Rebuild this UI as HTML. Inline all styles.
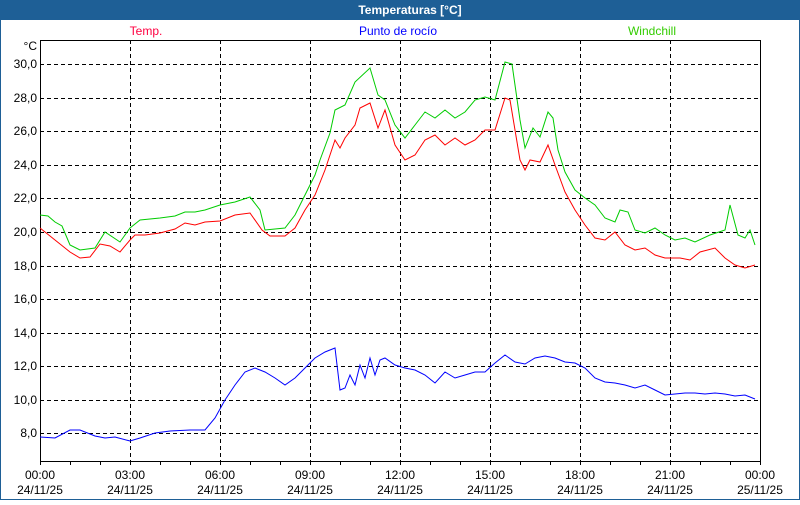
<!DOCTYPE html>
<html><head><meta charset="utf-8"><style>
body{margin:0;width:800px;height:500px;overflow:hidden;background:#fff;font-family:"Liberation Sans",sans-serif}
</style></head><body>
<svg width="800" height="500" xmlns="http://www.w3.org/2000/svg" font-family="Liberation Sans, sans-serif" font-size="12">
<rect x="0" y="0" width="800" height="500" fill="#fff"/>
<rect x="0.5" y="0.5" width="799" height="499" fill="none" stroke="#1e5f96"/>
<rect x="0" y="0" width="800" height="20" fill="#1e5f96"/>
<text x="410" y="14" fill="#fff" font-weight="bold" text-anchor="middle">Temperaturas [°C]</text>
<text x="146" y="35" fill="#ff0040" text-anchor="middle">Temp.</text>
<text x="398" y="35" fill="#0000ff" text-anchor="middle">Punto de rocío</text>
<text x="652" y="35" fill="#33cc00" text-anchor="middle">Windchill</text>
<g stroke="#000" stroke-dasharray="4,3" stroke-width="1">
<path d="M130.5 40V461M220.5 40V461M310.5 40V461M400.5 40V461M490.5 40V461M580.5 40V461M670.5 40V461"/>
<path d="M40 64.5H760M40 98.5H760M40 131.5H760M40 165.5H760M40 198.5H760M40 232.5H760M40 266.5H760M40 299.5H760M40 333.5H760M40 366.5H760M40 400.5H760M40 433.5H760"/>
</g>
<rect x="40.5" y="40.5" width="720" height="421" fill="none" stroke="#000"/>
<g stroke="#000"><path d="M40.5 461V465M70.5 461V465M100.5 461V465M130.5 461V465M160.5 461V465M190.5 461V465M220.5 461V465M250.5 461V465M280.5 461V465M310.5 461V465M340.5 461V465M370.5 461V465M400.5 461V465M430.5 461V465M460.5 461V465M490.5 461V465M520.5 461V465M550.5 461V465M580.5 461V465M610.5 461V465M640.5 461V465M670.5 461V465M700.5 461V465M730.5 461V465M760.5 461V465"/></g>
<g fill="#000" text-anchor="end">
<text x="37" y="50">°C</text>
<text x="37" y="68">30,0</text><text x="37" y="102">28,0</text><text x="37" y="135">26,0</text><text x="37" y="169">24,0</text><text x="37" y="202">22,0</text><text x="37" y="236">20,0</text><text x="37" y="270">18,0</text><text x="37" y="303">16,0</text><text x="37" y="337">14,0</text><text x="37" y="370">12,0</text><text x="37" y="404">10,0</text><text x="37" y="437">8,0</text>
</g>
<g fill="#000" text-anchor="middle">
<text x="40" y="479">00:00</text><text x="40" y="494">24/11/25</text>
<text x="130" y="479">03:00</text><text x="130" y="494">24/11/25</text>
<text x="220" y="479">06:00</text><text x="220" y="494">24/11/25</text>
<text x="310" y="479">09:00</text><text x="310" y="494">24/11/25</text>
<text x="400" y="479">12:00</text><text x="400" y="494">24/11/25</text>
<text x="490" y="479">15:00</text><text x="490" y="494">24/11/25</text>
<text x="580" y="479">18:00</text><text x="580" y="494">24/11/25</text>
<text x="670" y="479">21:00</text><text x="670" y="494">24/11/25</text>
<text x="760" y="479">00:00</text><text x="760" y="494">25/11/25</text>
</g>
<polyline fill="none" stroke="#00cc00" points="40,215 48,216 55,222 62,226 70,245 80,250 95,248 105,232 120,242 130,228 140,220 160,218 175,216 185,212 195,212 205,210 220,205 235,202 250,197 260,210 265,230 285,228 295,215 305,195 315,175 320,160 330,133 335,110 345,105 355,82 370,68 378,95 385,100 395,125 405,138 415,125 425,112 435,118 445,110 455,118 465,112 475,100 485,97 495,100 505,62 512,64 520,120 525,148 533,128 540,137 548,112 553,118 558,150 565,172 575,190 585,198 595,205 605,218 615,222 620,210 628,212 635,230 645,233 655,228 665,235 675,240 685,238 695,242 710,235 725,230 730,205 738,235 745,238 750,230 755,245"/>
<polyline fill="none" stroke="#ff0000" points="40,228 45,232 55,240 70,252 80,258 90,257 100,244 110,246 120,252 130,240 135,235 145,235 160,233 175,229 185,223 195,225 205,222 220,221 235,215 250,213 262,230 270,236 285,236 295,228 305,210 315,195 325,170 335,140 340,148 345,138 355,125 360,108 370,103 378,128 385,110 395,145 405,160 415,155 425,140 435,135 445,145 455,138 465,145 475,140 485,130 495,130 505,98 510,100 520,160 525,170 530,160 540,162 548,145 555,165 565,192 575,210 585,225 595,238 605,240 615,232 625,245 635,250 645,248 655,255 665,258 680,258 690,260 700,252 715,248 725,258 735,265 745,268 755,265"/>
<polyline fill="none" stroke="#0000ff" points="40,437 55,438 70,430 80,430 95,436 105,438 115,437 130,441 140,438 155,433 170,431 190,430 205,430 215,418 225,400 235,385 245,372 255,368 265,372 275,378 285,385 295,378 305,368 315,358 325,352 335,348 340,390 345,388 350,375 355,385 360,365 365,378 370,358 375,375 380,360 385,358 395,365 405,368 415,370 425,375 435,383 445,372 455,378 465,375 475,372 485,372 495,363 505,355 515,362 525,364 535,358 545,356 555,358 565,362 575,363 585,368 595,378 605,382 615,383 625,385 635,388 645,385 655,390 665,395 675,394 685,393 695,393 705,394 715,393 725,394 735,396 745,395 755,399"/>
</svg>
</body></html>
